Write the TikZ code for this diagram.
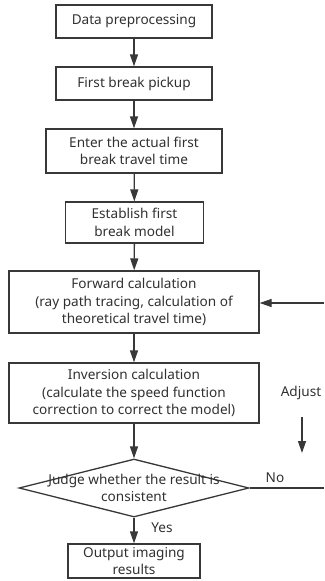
\documentclass[tikz,border=0pt]{standalone}
\usepackage{fontspec}
\setmainfont{Noto Sans}
\usetikzlibrary{arrows.meta,shapes.geometric}
\definecolor{ln}{HTML}{383838}
\definecolor{tx}{HTML}{303030}
\begin{document}
\begin{tikzpicture}[x=1pt,y=-1pt,
  box/.style={draw=ln,line width=1.3pt,rectangle,align=center,inner sep=0pt,text=tx,
    font=\fontsize{13.6}{17.3}\selectfont},
  lbl/.style={text=tx,inner sep=0pt,font=\fontsize{13.6}{17.3}\selectfont},
  arr/.style={draw=ln,line width=1.3pt,-{Triangle[length=12pt,width=8pt]}},
  lin/.style={draw=ln,line width=1.3pt}]
\useasboundingbox (0,0) rectangle (324,581);
\node[box,minimum width=156pt,minimum height=33pt] (b1) at (134,21.5) {Data preprocessing};
\node[box,minimum width=156pt,minimum height=33pt] (b2) at (134,83.5) {First break pickup};
\node[box,minimum width=176pt,minimum height=44pt] (b3) at (134,151) {Enter the actual first\\break travel time};
\node[box,minimum width=138pt,minimum height=41pt] (b4) at (134.5,222.5) {Establish first\\break model};
\node[box,minimum width=250pt,minimum height=62pt] (b5) at (134,302) {Forward calculation\\(ray path tracing, calculation of\\theoretical travel time)};
\node[box,minimum width=250pt,minimum height=60pt] (b6) at (134,393) {Inversion calculation\\(calculate the speed function\\correction to correct the model)};
\node[draw=ln,line width=1.3pt,diamond,minimum width=230pt,minimum height=58pt,inner sep=0pt] (d) at (134,488) {};
\node[lbl,align=center] (dt) at (134,488) {Judge whether the result is\\consistent};
\node[box,minimum width=132pt,minimum height=34pt] (b7) at (134,561) {Output imaging\\results};
\draw[arr] (b1) -- (b2);
\draw[arr] (b2) -- (b3);
\draw[arr] (b3) -- (b4);
\draw[arr] (b4) -- (b5);
\draw[arr] (b5) -- (b6);
\draw[arr] (b6) -- (d);
\draw[arr] (d) -- (b7);
\node[lbl] (yes) at (162,528) {Yes};
\coordinate (nr) at (324,488);
\coordinate (fr) at (324,303);
\draw[lin] (d.east) -- (nr);
\node[lbl] (no) at (275,478) {No};
\draw[arr] (fr) -- (b5.east |- fr);
\node[lbl] (adj) at (301,393) {Adjust};
\coordinate (a1) at (302,417);
\coordinate (a2) at (302,453);
\draw[arr] (a1) -- (a2);
\end{tikzpicture}
\end{document}
